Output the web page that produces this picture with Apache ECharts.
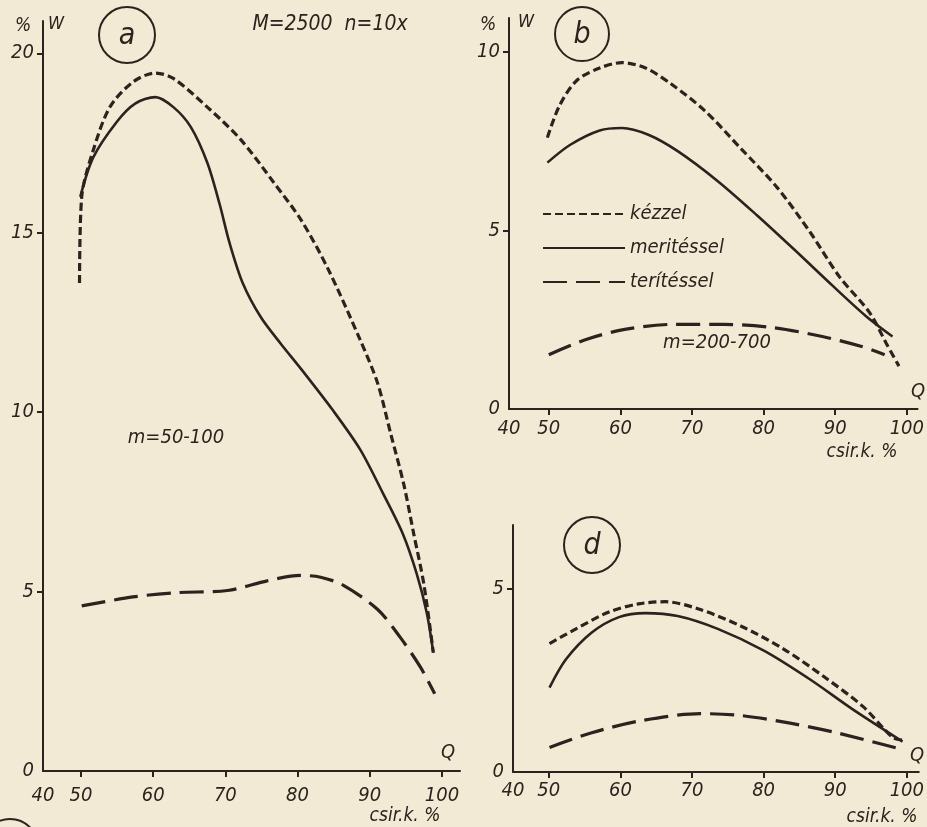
<!DOCTYPE html>
<html>
<head>
<meta charset="utf-8">
<script src="https://cdn.jsdelivr.net/npm/echarts@6/dist/echarts.min.js"></script>
<style>
  html, body { margin: 0; padding: 0; background: #f3ead6; }
  #chart { width: 927px; height: 827px; }
</style>
</head>
<body>
<div id="chart"></div>
<script>
// series names (legend)
var names = ["kézzel", "meritéssel", "terítéssel"];

// panel a  (M=2500 n=10x, m=50-100)  [csir.k. %, W %]
var aKezzel = [[49.8,13.6],[50.1,16.0],[51.7,17.3],[54,18.5],[57.2,19.2],[60.3,19.45],[62.8,19.3],[67.5,18.5],[72.1,17.6],[76.7,16.4],[80.5,15.35],[84.2,14.0],[88.7,12.0],[91.1,10.8],[92.9,9.4],[94.7,8.0],[96.1,6.6],[97.5,5.2],[98.8,3.3]];
var aMeritessel = [[49.9,16.0],[51.7,17.1],[55,18.1],[57.5,18.6],[60.3,18.78],[62.8,18.5],[65.2,17.95],[67.5,16.95],[69.2,15.8],[70.6,14.7],[72.4,13.6],[74.9,12.65],[77.7,11.9],[80.5,11.2],[84.9,10.05],[88.7,8.95],[91.8,7.75],[94.6,6.6],[96.5,5.5],[97.9,4.4],[98.8,3.3]];
var aTeritessel = [[50.1,4.6],[57.2,4.85],[63.3,4.97],[70.3,5.03],[75.8,5.3],[80.4,5.45],[83.2,5.4],[86.3,5.18],[91.1,4.5],[94.2,3.73],[97,2.9],[99.0,2.15]];

// panel b  (m=200-700)
var bKezzel = [[49.8,7.6],[51.5,8.5],[53.9,9.2],[57.1,9.55],[60.2,9.7],[63.5,9.55],[67.1,9.1],[71.8,8.35],[76.8,7.3],[81.9,6.2],[86.5,4.95],[90.6,3.7],[94.8,2.7],[97.1,1.85],[98.9,1.2]];
var bMeritessel = [[49.8,6.9],[53,7.4],[57.1,7.8],[60.2,7.87],[63.9,7.68],[68,7.22],[73.6,6.38],[79.1,5.42],[84.2,4.48],[89.7,3.44],[94.3,2.6],[98,2.03]];
var bTeritessel = [[50,1.52],[55.1,1.94],[60.6,2.23],[67.5,2.37],[74.4,2.37],[81.3,2.28],[88.2,2.03],[93.7,1.75],[96.9,1.52]];

// panel d
var dKezzel = [[50.1,3.5],[53.8,3.9],[58.4,4.36],[62.5,4.58],[66.3,4.64],[70.8,4.45],[76.8,3.98],[82.8,3.35],[88.4,2.6],[93.9,1.78],[98.1,0.93],[99.6,0.87]];
var dMeritessel = [[50.1,2.3],[52.4,3.07],[56,3.8],[59.8,4.22],[63.5,4.33],[68,4.25],[73.6,3.9],[80.1,3.3],[86.5,2.52],[92.5,1.7],[99.4,0.83]];
var dTeritessel = [[50.1,0.67],[56,1.07],[62.9,1.4],[71.2,1.59],[76.8,1.54],[83.7,1.33],[90.6,1.05],[99.6,0.6]];

// tick labels
var xTicks = [50, 60, 70, 80, 90, 100];
var yTicksA = [0, 5, 10, 15, 20];
var yTicksB = [0, 5, 10];
var yTicksD = [0, 5];

var ink = "#2b231d";
var font = '"DejaVu Sans Condensed", "DejaVu Sans", sans-serif';

function xAxisFor(idx, min, max, margin) {
  return {
    type: "value", gridIndex: idx, min: min, max: max,
    splitLine: { show: false },
    axisLine: { lineStyle: { color: ink, width: 2 } },
    axisTick: { customValues: xTicks, length: 6, lineStyle: { color: ink, width: 2 } },
    axisLabel: {
      customValues: [min].concat(xTicks),
      formatter: function (v) { return v < 46 ? "40" : String(v); },
      color: ink, fontSize: 20, fontStyle: "italic", fontFamily: font, margin: margin
    }
  };
}
function yAxisFor(idx, max, ticks) {
  return {
    type: "value", gridIndex: idx, min: 0, max: max,
    splitLine: { show: false },
    axisLine: { lineStyle: { color: ink, width: 2 } },
    axisTick: { customValues: ticks.slice(1), length: 6, lineStyle: { color: ink, width: 2 } },
    axisLabel: {
      customValues: ticks,
      color: ink, fontSize: 20, fontStyle: "italic", fontFamily: font, margin: 9
    }
  };
}
function line(name, idx, data) {
  var type = name == names[0] ? [8, 4] : (name == names[2] ? [24, 9] : "solid");
  return {
    name: name, type: "line", xAxisIndex: idx, yAxisIndex: idx,
    data: data, smooth: 0.3, symbol: "none",
    lineStyle: { color: ink, width: name == names[1] ? 2.6 : 3.2, type: type },
    itemStyle: { color: ink }
  };
}
function txt(x, y, s, size, align) {
  return {
    type: "text", x: x, y: y,
    style: { text: s, fill: ink, fontSize: size || 20, fontStyle: "italic", fontFamily: font,
             align: align || "center", verticalAlign: "middle" }
  };
}
function ring(cx, cy, r) {
  return { type: "circle", shape: { cx: cx, cy: cy, r: r }, style: { fill: "none", stroke: ink, lineWidth: 2 } };
}

var chart = echarts.init(document.getElementById("chart"));
var option = {
  backgroundColor: "#f3ead6",
  animation: false,
  grid: [
    { left: 43, right: 467, top: 21, bottom: 56 },
    { left: 509, right: 7, top: 18, bottom: 418 },
    { left: 513, right: 7, top: 525, bottom: 55 }
  ],
  xAxis: [
    xAxisFor(0, 44.74, 102.5, 15),
    xAxisFor(1, 44.44, 101.5, 10),
    xAxisFor(2, 45, 101.67, 9)
  ],
  yAxis: [
    yAxisFor(0, 20.9, yTicksA),
    yAxisFor(1, 10.95, yTicksB),
    yAxisFor(2, 6.73, yTicksD)
  ],
  legend: {
    data: names, orient: "vertical", left: 537, top: 199,
    itemWidth: 82, itemHeight: 14, itemGap: 14,
    itemStyle: { opacity: 0, borderWidth: 0 },
    textStyle: { color: ink, fontSize: 20, fontStyle: "italic", fontFamily: font }
  },
  series: [
    line(names[0], 0, aKezzel), line(names[1], 0, aMeritessel), line(names[2], 0, aTeritessel),
    line(names[0], 1, bKezzel), line(names[1], 1, bMeritessel), line(names[2], 1, bTeritessel),
    line(names[0], 2, dKezzel), line(names[1], 2, dMeritessel), line(names[2], 2, dTeritessel)
  ],
  graphic: [
    // panel a
    ring(127, 35, 28), txt(127, 36, "a", 30),
    txt(23, 26, "%", 19), txt(56, 24, "W", 18),
    txt(330, 25, "M=2500  n=10x", 21),
    txt(176, 438, "m=50-100", 20),
    txt(448, 753, "Q", 20),
    txt(405, 816, "csir.k. %", 19),
    // panel b
    ring(582, 34, 27), txt(582, 35, "b", 30),
    txt(488, 25, "%", 19), txt(526, 22, "W", 18),
    txt(717, 343, "m=200-700", 20),
    txt(918, 392, "Q", 20),
    txt(862, 452, "csir.k. %", 19),
    // panel d
    ring(592, 545, 28), txt(592, 546, "d", 30),
    txt(917, 756, "Q", 20),
    txt(882, 817, "csir.k. %", 19),
    // cut-off circle in the corner
    ring(10, 847, 28)
  ]
};
chart.setOption(option, true);
</script>
</body>
</html>
